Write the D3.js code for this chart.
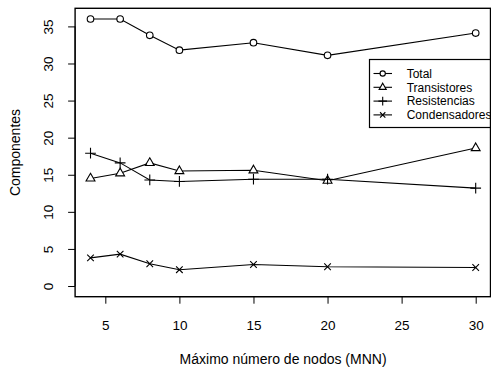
<!DOCTYPE html>
<html>
<head>
<meta charset="utf-8">
<script src="https://cdn.jsdelivr.net/npm/d3@7"></script>
<style>
  html, body { margin: 0; padding: 0; background: #fff; }
  svg { display: block; font-family: "Liberation Sans", Arial, Helvetica, sans-serif; }
</style>
</head>
<body>
<svg id="chart" width="491" height="373"></svg>
<script>
// Máximo número de nodos (MNN) on the x axis
const mnn = [4, 6, 8, 10, 15, 20, 30];

// Component counts per MNN value
const total        = [36.0, 36.0, 33.8, 31.8, 32.8, 31.1, 34.1];
const transistores = [14.5, 15.2, 16.6, 15.5, 15.6, 14.2, 18.6];
const resistencias = [17.9, 16.6, 14.3, 14.1, 14.4, 14.4, 13.2];
const condensadores = [3.8, 4.3, 3.0, 2.2, 2.9, 2.6, 2.5];

const seriesNames = ["Total", "Transistores", "Resistencias", "Condensadores"];
const seriesSymbols = ["circle", "triangle", "plus", "cross"];
const seriesValues = [total, transistores, resistencias, condensadores];

const xTicks = [5, 10, 15, 20, 25, 30];
const yTicks = [0, 5, 10, 15, 20, 25, 30, 35];

const xTitle = "Máximo número de nodos (MNN)";
const yTitle = "Componentes";

const svg = d3.select("#chart");

const plot = { left: 75.1, right: 491.1, top: 8.3, bottom: 296.7 };

const x = d3.scaleLinear().domain([2.96, 31.04]).range([plot.left, plot.right]);
const y = d3.scaleLinear().domain([-1.44, 37.44]).range([plot.bottom, plot.top]);

// Marker drawing in the style of base graphics symbols
function drawSymbol(g, type, cx, cy, s) {
  const r = 3.3 * s;
  if (type === "circle") {
    g.append("circle").attr("cx", cx).attr("cy", cy).attr("r", r)
      .attr("fill", "none").attr("stroke", "#000").attr("stroke-width", 1.1);
  } else if (type === "triangle") {
    const tr = 1.555 * r;
    const pts = [[cx, cy - tr], [cx + tr * 0.866, cy + tr / 2], [cx - tr * 0.866, cy + tr / 2]];
    g.append("polygon").attr("points", pts.map(p => p.join(",")).join(" "))
      .attr("fill", "none").attr("stroke", "#000").attr("stroke-width", 1.1);
  } else if (type === "plus") {
    const h = r * Math.SQRT2 * 1.15;
    g.append("path").attr("d", `M${cx - h},${cy}H${cx + h}M${cx},${cy - h}V${cy + h}`)
      .attr("stroke", "#000").attr("stroke-width", 1.1).attr("fill", "none");
  } else if (type === "cross") {
    g.append("path").attr("d", `M${cx - r},${cy - r}L${cx + r},${cy + r}M${cx - r},${cy + r}L${cx + r},${cy - r}`)
      .attr("stroke", "#000").attr("stroke-width", 1.1).attr("fill", "none");
  }
}

// Axes
const xAxis = d3.axisBottom(x).tickValues(xTicks).tickSize(7).tickPadding(17).tickFormat(d3.format("d"));
const gx = svg.append("g").attr("transform", `translate(0,${plot.bottom})`).call(xAxis);
gx.select(".domain").attr("d", `M${x(xTicks[0])},0H${x(xTicks[xTicks.length - 1])}`);
gx.selectAll("text").attr("font-size", 13.5).attr("fill", "#000")
  .attr("font-family", "Liberation Sans, Arial, sans-serif").attr("dy", "0");
gx.selectAll("text").attr("y", 33.3);
gx.selectAll("line, path").attr("stroke", "#000");

const yAxis = d3.axisLeft(y).tickValues(yTicks).tickSize(7).tickFormat(d3.format("d"));
const gy = svg.append("g").attr("transform", `translate(${plot.left},0)`).call(yAxis);
gy.select(".domain").attr("d", `M0,${y(yTicks[0])}V${y(yTicks[yTicks.length - 1])}`);
gy.selectAll(".tick text")
  .attr("font-size", 13.5).attr("fill", "#000")
  .attr("font-family", "Liberation Sans, Arial, sans-serif")
  .attr("x", null).attr("dy", null)
  .attr("text-anchor", "middle")
  .attr("transform", "translate(-21.8,0) rotate(-90)");
gy.selectAll("line, path").attr("stroke", "#000");

// Series lines with markers
const line = d3.line().x((d, i) => x(mnn[i])).y(d => y(d));
seriesValues.forEach((vals, k) => {
  const g = svg.append("g");
  g.append("path").attr("d", line(vals))
    .attr("fill", "none").attr("stroke", "#000").attr("stroke-width", 1.1);
  vals.forEach((v, i) => {
    // open symbols leave a gap where the line meets them
    if (seriesSymbols[k] === "circle" || seriesSymbols[k] === "triangle") {
      g.append("circle").attr("cx", x(mnn[i])).attr("cy", y(v)).attr("r", 3).attr("fill", "#fff");
    }
    drawSymbol(g, seriesSymbols[k], x(mnn[i]), y(v), 1);
  });
});

// Axis titles
svg.append("text")
  .attr("x", (plot.left + plot.right) / 2).attr("y", 364)
  .attr("text-anchor", "middle").attr("font-size", 14).attr("fill", "#000")
  .text(xTitle);
svg.append("text")
  .attr("transform", `translate(20,${(plot.top + plot.bottom) / 2}) rotate(-90)`)
  .attr("text-anchor", "middle").attr("font-size", 14).attr("fill", "#000")
  .text(yTitle);

// Legend (transparent background)
const legend = svg.append("g");
legend.append("rect")
  .attr("x", 369.5).attr("y", 59.5).attr("width", 140).attr("height", 68)
  .attr("fill", "none").attr("stroke", "#000").attr("stroke-width", 1.2);
seriesNames.forEach((name, k) => {
  const cy = 73.5 + k * 13.8;
  legend.append("line").attr("x1", 373.5).attr("x2", 392).attr("y1", cy).attr("y2", cy)
    .attr("stroke", "#000").attr("stroke-width", 1.1);
  if (seriesSymbols[k] === "circle" || seriesSymbols[k] === "triangle") {
    legend.append("circle").attr("cx", 382.7).attr("cy", cy).attr("r", 2.4).attr("fill", "#fff");
  }
  drawSymbol(legend, seriesSymbols[k], 382.7, cy, 0.8);
  legend.append("text").attr("x", 406.7).attr("y", cy + 4.3)
    .attr("font-size", 12).attr("fill", "#000").text(name);
});

// Plot box drawn last so its edges sit on top
svg.append("rect")
  .attr("x", plot.left).attr("y", plot.top)
  .attr("width", plot.right - plot.left - 0.6).attr("height", plot.bottom - plot.top)
  .attr("fill", "none").attr("stroke", "#000").attr("stroke-width", 1.4);
</script>
</body>
</html>
